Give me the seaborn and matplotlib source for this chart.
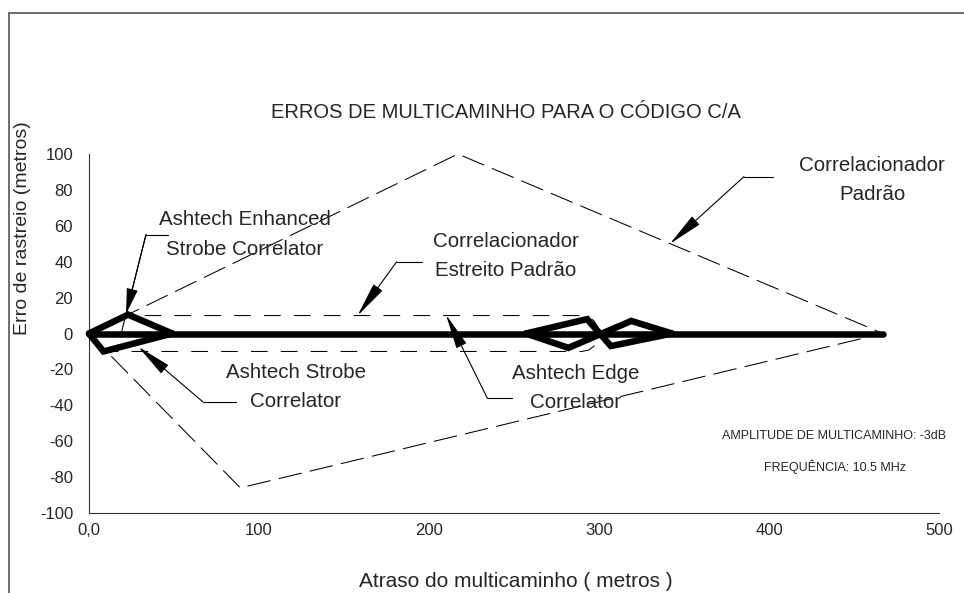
import matplotlib
matplotlib.use("Agg")
import matplotlib.pyplot as plt
import seaborn as sns
from matplotlib.lines import Line2D

# ---- data -------------------------------------------------------------
delay_ticks = [0, 100, 200, 300, 400, 500]
delay_tick_labels = ["0,0", "100", "200", "300", "400", "500"]
error_ticks = [-100, -80, -60, -40, -20, 0, 20, 40, 60, 80, 100]

# standard correlator error envelope (closed path)
standard_x = [0, 217, 467, 89, 0]
standard_y = [0, 100, 0, -86, 0]

# narrow correlator envelope (closed path with rounded right end)
narrow_x = [0, 21.7, 290, 294, 297, 299.2, 300, 299.2, 297, 294, 290, 10, 0]
narrow_y = [0, 10, 10, 9.2, 7.1, 3.8, 0, -3.8, -7.1, -9.2, -10, -10, 0]

# Ashtech correlators
enhanced_x = [0, 23, 49]
enhanced_y = [0, 10.5, 0]
strobe_x = [0, 8.5, 49]
strobe_y = [0, -10, 0]
baseline_x = [0, 467]
baseline_y = [0, 0]
edge_a_x = [257, 293, 307, 343]
edge_a_y = [0, 8, -7, 0]
edge_b_x = [257, 282, 319, 343]
edge_b_y = [0, -8, 7, 0]

# ---- style ------------------------------------------------------------
sns.set_style("white")
plt.rcParams["font.family"] = ["Liberation Sans", "DejaVu Sans"]
plt.rcParams["lines.scale_dashes"] = False

W, H = 964, 593
fig = plt.figure(figsize=(W / 100, H / 100), dpi=100)
ax = fig.add_axes([89 / W, 1 - 513 / H, 850 / W, 359 / H])


def trace(xs, ys, lw, dashes=None, z=2):
    sns.lineplot(x=xs, y=ys, sort=False, estimator=None, ax=ax,
                 color="black", linewidth=lw, legend=False)
    line = ax.lines[-1]
    if dashes is not None:
        line.set_dashes(dashes)
    line.set_solid_capstyle("round")
    line.set_solid_joinstyle("miter")
    line.set_clip_on(False)
    line.set_zorder(z)
    return line


trace(standard_x, standard_y, 0.75, dashes=(17, 6), z=2)
trace(narrow_x, narrow_y, 0.75, dashes=(12, 9.5), z=2)
for xs, ys in [(baseline_x, baseline_y), (enhanced_x, enhanced_y), (strobe_x, strobe_y),
               (edge_a_x, edge_a_y), (edge_b_x, edge_b_y)]:
    trace(xs, ys, 4.7, z=4)

# ---- axes -------------------------------------------------------------
ax.set_xlim(0, 500)
ax.set_ylim(-100, 100)
ax.set_xticks(delay_ticks, delay_tick_labels)
ax.set_yticks(error_ticks, [str(v) for v in error_ticks])
ax.set_xlabel("")
ax.set_ylabel("")
for side in ("top", "right"):
    ax.spines[side].set_visible(False)
for side in ("left", "bottom"):
    ax.spines[side].set_color("#333333")
    ax.spines[side].set_linewidth(0.8)
ax.tick_params(axis="x", direction="in", length=7.2, width=0.8, color="#333333",
               pad=7.5, labelsize=12)
ax.tick_params(axis="y", direction="inout", length=10, width=0.8, color="#333333",
               pad=6.5, labelsize=12)
ax.patch.set_alpha(0)

# ---- callouts ---------------------------------------------------------
def pointer(text_end, corner, tip, head_length=2.2, tail=None):
    ax.plot([text_end[0], corner[0]], [text_end[1], corner[1]], color="black",
            lw=0.8, clip_on=False, zorder=3)
    if tail is not None:
        ax.plot([corner[0], tail[0]], [corner[1], tail[1]], color="black",
                lw=0.8, clip_on=False, zorder=3)
    ax.annotate("", xy=tip, xytext=corner, annotation_clip=False, zorder=3,
                arrowprops=dict(arrowstyle=f"-|>,head_length={head_length},head_width=0.35",
                                color="black", lw=0.8, shrinkA=0, shrinkB=0,
                                mutation_scale=10))


label_kw = dict(ha="center", va="center", fontsize=14.8, linespacing=1.68, clip_on=False)

ax.text(460.6, 85.5, "Correlacionador\nPadrão", **label_kw)
pointer((402.5, 87.4), (385.3, 87.4), (341.8, 50))

ax.text(245.3, 43.2, "Correlacionador\nEstreito Padrão", **label_kw)
pointer((195.7, 40), (181, 40), (158, 10))

ax.text(91.8, 55.2, "Ashtech Enhanced\nStrobe Correlator", **label_kw)
pointer((46.6, 55), (33.5, 55), (21.8, 10.9), head_length=1.6, tail=(19.2, 1))

ax.text(121.8, -29.8, "Ashtech Strobe\nCorrelator", **label_kw)
pointer((86.3, -38), (66.9, -38), (29, -7.4))

ax.text(286.5, -30.4, "Ashtech Edge\nCorrelator", **label_kw)
pointer((249, -36), (234.3, -36), (210, 10.5))

ax.text(438.2, -57.1, "AMPLITUDE DE MULTICAMINHO: -3dB", ha="center", va="center",
        fontsize=9)
ax.text(438.8, -74.2, "FREQUÊNCIA: 10.5 MHz", ha="center", va="center", fontsize=9)

# ---- titles -----------------------------------------------------------
fig.text(506 / W, 1 - 113 / H, "ERROS DE MULTICAMINHO PARA O CÓDIGO C/A",
         ha="center", va="center", fontsize=14.5)
fig.text(515.6 / W, 1 - 581.7 / H, "Atraso do multicaminho ( metros )",
         ha="center", va="center", fontsize=15)
fig.text(23 / W, 1 - 228 / H, "Erro de rastreio (metros)", ha="center", va="center",
         rotation=90, fontsize=14)

# page frame
frame_kw = dict(color="#555555", lw=1.2, transform=fig.transFigure)
fig.add_artist(Line2D([9 / W, 1.0], [1 - 13 / H, 1 - 13 / H], **frame_kw))
fig.add_artist(Line2D([9 / W, 9 / W], [1 - 13 / H, 0.0], **frame_kw))

fig.savefig("out.png", dpi=100)
